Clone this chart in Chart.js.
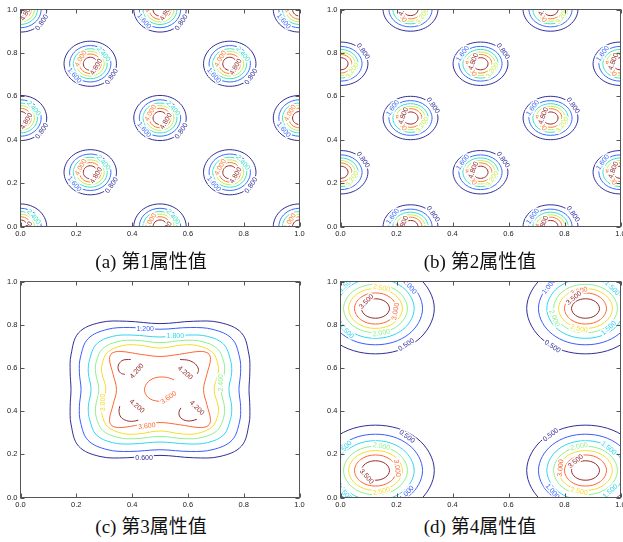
<!DOCTYPE html>
<html>
<head>
<meta charset="utf-8">
<title>属性值等高线</title>
<script src="https://cdn.jsdelivr.net/npm/chart.js@4.4.1/dist/chart.umd.min.js"></script>
<style>
  html, body { margin: 0; padding: 0; background: #fff; overflow: hidden; }
  body { position: relative; width: 623px; height: 542px; }
  canvas { position: absolute; }
  .cap { position: absolute; width: 220px; text-align: center; line-height: 20px; font-size: 19px; color: #111;
         font-family: "Liberation Serif", "Noto Sans CJK SC", serif; white-space: nowrap; }
</style>
</head>
<body>
<canvas id="chartA" width="312" height="242" style="left:0;top:0"></canvas>
<canvas id="chartB" width="312" height="242" style="left:320px;top:0"></canvas>
<canvas id="chartC" width="312" height="241" style="left:0;top:272px"></canvas>
<canvas id="chartD" width="312" height="241" style="left:320px;top:272px"></canvas>
<div class="cap" style="left:41px;top:252px">(a) 第1属性值</div>
<div class="cap" style="left:370px;top:252px">(b) 第2属性值</div>
<div class="cap" style="left:41px;top:517px">(c) 第3属性值</div>
<div class="cap" style="left:370px;top:517px">(d) 第4属性值</div>
<script>
const TICKS = [0, 0.2, 0.4, 0.6, 0.8, 1.0];
const JET6 = ['#2e2e99', '#3a6cff', '#3ce2c8', '#c4ee50', '#ff7a2a', '#962a2a'];
const JET7 = ['#2e2e99', '#3a5cff', '#2fd6f2', '#8ef08e', '#f5dc2a', '#ff6633', '#962a2a'];

// (a) contour levels, ring half-sizes [x, y] per level, peak centres
const LEVELS_A = [0.8, 1.6, 2.4, 3.2, 4.0, 4.8];
const RINGS_A = [[0.094, 0.104], [0.074, 0.084], [0.061, 0.069], [0.050, 0.057], [0.039, 0.045], [0.025, 0.030]];
const CENTERS_A = [[0, 0], [0.5, 0], [1, 0], [0.25, 0.25], [0.75, 0.25], [0, 0.5], [0.5, 0.5], [1, 0.5],
                   [0.25, 0.75], [0.75, 0.75], [0, 1], [0.5, 1], [1, 1]];
const SPOTS_A = [[0, -35], [1, -140], [2, 40], [4, 150], [5, -30]];   // [level, angle on ring]

// (b)
const LEVELS_B = [0.8, 1.6, 2.4, 3.2, 4.0, 4.8];
const RINGS_B = [[0.098, 0.100], [0.077, 0.080], [0.063, 0.066], [0.052, 0.054], [0.041, 0.043], [0.027, 0.028]];
const CENTERS_B = [[0.25, 0], [0.75, 0], [0, 0.25], [0.5, 0.25], [1, 0.25], [0.25, 0.5], [0.75, 0.5],
                   [0, 0.75], [0.5, 0.75], [1, 0.75], [0.25, 1], [0.75, 1]];
const SPOTS_B = [[0, 35], [1, 145], [3, -35], [4, -150], [5, 160]];

// (c) one quarter of each ring around the centre, from 0 to 90 degrees
const LEVELS_C = [0.6, 1.2, 1.8, 2.4, 3.0, 3.6, 4.2];
const CENTER_C = [0.5, 0.5];
const QUARTERS_C = [
  [[0.319, 0], [0.322, 0.08], [0.319, 0.16], [0.292, 0.262], [0.215, 0.310], [0.12, 0.316], [0, 0.305]],
  [[0.283, 0], [0.289, 0.08], [0.285, 0.15], [0.258, 0.235], [0.190, 0.278], [0.11, 0.287], [0, 0.279]],
  [[0.247, 0], [0.257, 0.08], [0.252, 0.14], [0.228, 0.210], [0.170, 0.246], [0.10, 0.252], [0, 0.243]],
  [[0.219, 0], [0.231, 0.08], [0.228, 0.13], [0.205, 0.190], [0.150, 0.222], [0.09, 0.228], [0, 0.217]],
  [[0.194, 0], [0.209, 0.08], [0.207, 0.12], [0.188, 0.172], [0.135, 0.203], [0.08, 0.206], [0, 0.192]],
  [[0.156, 0], [0.168, 0.07], [0.181, 0.14], [0.172, 0.168], [0.14, 0.176], [0.07, 0.163], [0, 0.153]]
];
const ARCS_C = [
  [5, [[0.55, 0.545], [0.52, 0.557], [0.48, 0.553], [0.452, 0.527], [0.445, 0.49], [0.465, 0.456], [0.505, 0.443]]],
  [6, [[0.395, 0.639], [0.368, 0.636], [0.353, 0.619], [0.350, 0.596], [0.359, 0.576], [0.374, 0.570]]],
  [6, [[0.572, 0.639], [0.602, 0.635], [0.626, 0.619], [0.638, 0.593], [0.634, 0.573]]],
  [6, [[0.356, 0.423], [0.353, 0.399], [0.360, 0.372], [0.380, 0.356], [0.404, 0.353], [0.422, 0.358]]],
  [6, [[0.575, 0.415], [0.568, 0.395], [0.572, 0.372], [0.590, 0.357], [0.612, 0.355], [0.632, 0.362]]]
];
const LABELS_C = [[1, 0.447, 0.781, 0], [2, 0.555, 0.748, 0], [3, 0.719, 0.531, 90], [4, 0.295, 0.44, 90],
                  [5, 0.453, 0.330, 8], [5, 0.531, 0.462, 35], [6, 0.417, 0.585, 50], [6, 0.590, 0.577, -40],
                  [6, 0.417, 0.423, -40], [6, 0.632, 0.415, -45], [0, 0.443, 0.181, 0]];

// (d)
const LEVELS_D = [0.5, 1.0, 1.5, 2.0, 2.5, 3.0, 3.5];
const RINGS_D = [[0.21, 0.21], [0.168, 0.168], [0.138, 0.138], [0.114, 0.112], [0.096, 0.092], [0.075, 0.072], [0.050, 0.045]];
const CENTERS_D = [[0.125, 0.125], [0.875, 0.125], [0.125, 0.875], [0.875, 0.875]];
const LABELS_D = [
  [2, 0.021, 0.985, 43], [4, 0.146, 0.969, -12], [6, 0.093, 0.907, 45], [5, 0.197, 0.861, 79],
  [3, 0.146, 0.761, 10], [2, 0.021, 0.769, -44], [0, 0.235, 0.707, 33], [1, 0.247, 0.977, -50],
  [1, 0.745, 0.977, 52], [2, 0.970, 0.969, -45], [5, 0.852, 0.954, 16], [6, 0.834, 0.923, 40],
  [3, 0.763, 0.830, -68], [4, 0.852, 0.781, -14], [2, 0.958, 0.784, 42], [0, 0.757, 0.699, -34],
  [0, 0.237, 0.282, -36], [2, 0.015, 0.228, 47], [3, 0.146, 0.236, -11], [5, 0.202, 0.136, -82],
  [6, 0.093, 0.097, -49], [4, 0.146, 0.028, 12], [2, 0.015, 0.020, -46], [1, 0.237, 0.020, 47],
  [0, 0.751, 0.290, 37], [3, 0.852, 0.236, 12], [2, 0.958, 0.228, -39], [6, 0.840, 0.167, 40],
  [5, 0.786, 0.136, 83], [4, 0.852, 0.028, -13], [1, 0.757, 0.028, -50], [2, 0.964, 0.028, 43]
];

// mirror a quarter ring into a full closed ring
function mirror(q) {
  const n = q.length, out = [];
  for (let i = 0; i < n; i++) out.push([q[i][0], q[i][1]]);
  for (let i = n - 2; i >= 0; i--) out.push([-q[i][0], q[i][1]]);
  for (let i = 1; i < n; i++) out.push([-q[i][0], -q[i][1]]);
  for (let i = n - 2; i >= 1; i--) out.push([q[i][0], -q[i][1]]);
  return out;
}
function ringLoop(cx, cy, quarter) {
  return mirror(quarter).map(([dx, dy]) => ({ x: cx + dx, y: cy + dy }));
}
function ellipseQuarter([rx, ry]) {
  const d = Math.SQRT1_2;
  return [[rx, 0], [d * rx, d * ry], [0, ry]];
}
function contour(points, color, closed) {
  return { data: points, borderColor: color, closed: closed, spanGaps: true };
}
function blobSet(centers, rings, colors) {
  const out = [];
  centers.forEach(([cx, cy]) => rings.forEach((r, i) => out.push(contour(ringLoop(cx, cy, ellipseQuarter(r)), colors[i], true))));
  return out;
}
function spotLabels(centers, rings, levels, colors, spots) {
  const out = [];
  centers.forEach(([cx, cy]) => spots.forEach(([i, deg]) => {
    const t = deg * Math.PI / 180;
    let rot = deg + 90;
    if (rot > 90) rot -= 180;
    out.push({ text: levels[i].toFixed(3), color: colors[i], x: cx + rings[i][0] * Math.cos(t), y: cy + rings[i][1] * Math.sin(t), rot });
  }));
  return out;
}
function listLabels(list, levels, colors) {
  return list.map(([i, x, y, rot]) => ({ text: levels[i].toFixed(3), color: colors[i], x, y, rot }));
}

// closed rings: let the line element wrap its curve around
const closedLoops = {
  id: 'closedLoops',
  beforeDatasetUpdate(chart, args) {
    const ds = chart.data.datasets[args.index];
    if (ds.closed && args.meta.dataset) {
      args.meta.dataset._loop = true;
      args.meta.dataset._fullLoop = true;
    }
  }
};

// frame with inward ticks on all four sides
const frameTicks = {
  id: 'frameTicks',
  afterDraw(chart) {
    const { ctx, chartArea: a, scales: { x, y } } = chart;
    ctx.save();
    ctx.strokeStyle = '#555';
    ctx.lineWidth = 1;
    ctx.strokeRect(a.left, a.top, a.right - a.left, a.bottom - a.top);
    ctx.beginPath();
    TICKS.forEach(v => {
      const px = Math.round(x.getPixelForValue(v)) + 0.5;
      const py = Math.round(y.getPixelForValue(v)) + 0.5;
      ctx.moveTo(px, a.top); ctx.lineTo(px, a.top + 4);
      ctx.moveTo(px, a.bottom); ctx.lineTo(px, a.bottom - 4);
      ctx.moveTo(a.left, py); ctx.lineTo(a.left + 4, py);
      ctx.moveTo(a.right, py); ctx.lineTo(a.right - 4, py);
    });
    ctx.stroke();
    ctx.restore();
  }
};

// inline contour labels
function contourLabels(items) {
  return {
    id: 'contourLabels',
    afterDatasetsDraw(chart) {
      const { ctx, chartArea: a, scales: { x, y } } = chart;
      ctx.save();
      ctx.beginPath();
      ctx.rect(a.left, a.top, a.right - a.left, a.bottom - a.top);
      ctx.clip();
      ctx.font = '7px "Liberation Sans", Arial, sans-serif';
      ctx.textAlign = 'center';
      ctx.textBaseline = 'middle';
      items.forEach(lb => {
        ctx.save();
        ctx.translate(x.getPixelForValue(lb.x), y.getPixelForValue(lb.y));
        ctx.rotate(-lb.rot * Math.PI / 180);
        ctx.lineWidth = 3;
        ctx.strokeStyle = '#fff';
        ctx.strokeText(lb.text, 0, 0);
        ctx.fillStyle = lb.color;
        ctx.fillText(lb.text, 0, 0);
        ctx.restore();
      });
      ctx.restore();
    }
  };
}

function axis(dir) {
  return {
    type: 'linear', min: 0, max: 1,
    grid: { display: false, drawTicks: false },
    border: { display: false },
    afterBuildTicks: s => { s.ticks = TICKS.map(v => ({ value: v })); },
    afterFit: s => { if (dir === 'x') s.height = 15.5; else s.width = 20.5; },
    ticks: {
      padding: 3, autoSkip: false, maxRotation: 0, color: '#222',
      font: { family: '"Liberation Sans", Arial, sans-serif', size: 7.5 },
      callback: v => v.toFixed(1)
    }
  };
}

function makeChart(id, datasets, labels, padRight) {
  return new Chart(document.getElementById(id), {
    type: 'line',
    data: { datasets },
    options: {
      responsive: false,
      animation: false,
      events: [],
      layout: { padding: { left: 0, right: padRight, top: 9.5, bottom: 0 } },
      elements: {
        point: { radius: 0 },
        line: { borderWidth: 1, tension: 0.37, capBezierPoints: false, fill: false }
      },
      plugins: { legend: { display: false }, tooltip: { enabled: false } },
      scales: { x: axis('x'), y: axis('y') }
    },
    plugins: [closedLoops, contourLabels(labels), frameTicks]
  });
}

// (a)
makeChart('chartA', blobSet(CENTERS_A, RINGS_A, JET6),
  spotLabels(CENTERS_A, RINGS_A, LEVELS_A, JET6, SPOTS_A), 12.5);

// (b)
makeChart('chartB', blobSet(CENTERS_B, RINGS_B, JET6),
  spotLabels(CENTERS_B, RINGS_B, LEVELS_B, JET6, SPOTS_B), 11.5);

// (c)
const dataC = QUARTERS_C.map((q, i) => contour(ringLoop(CENTER_C[0], CENTER_C[1], q), JET7[i], true))
  .concat(ARCS_C.map(([i, pts]) => contour(pts.map(([x, y]) => ({ x, y })), JET7[i], false)));
makeChart('chartC', dataC, listLabels(LABELS_C, LEVELS_C, JET7), 12.5);

// (d)
makeChart('chartD', blobSet(CENTERS_D, RINGS_D, JET7), listLabels(LABELS_D, LEVELS_D, JET7), 11.5);
</script>
</body>
</html>
